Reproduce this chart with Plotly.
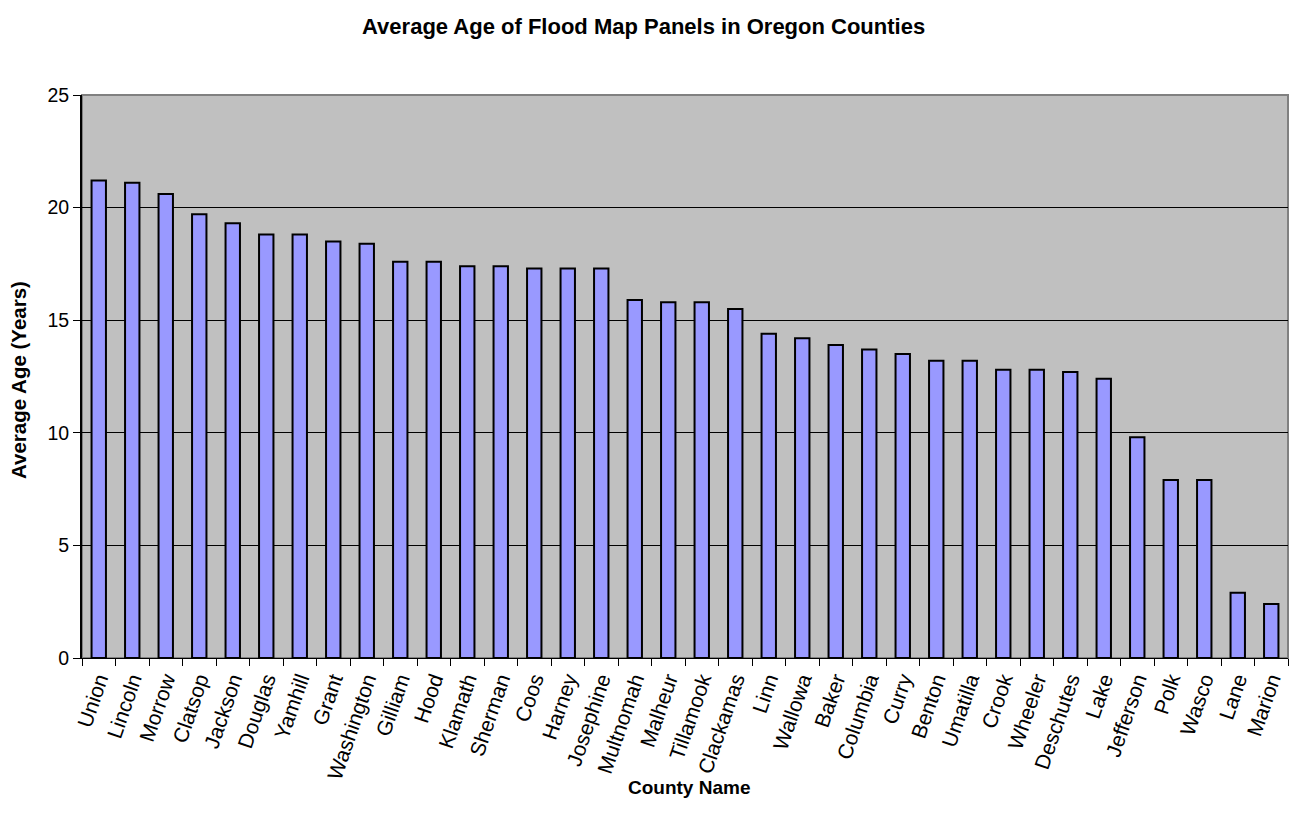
import plotly.graph_objects as go

counties = ["Union", "Lincoln", "Morrow", "Clatsop", "Jackson", "Douglas", "Yamhill", "Grant",
            "Washington", "Gilliam", "Hood", "Klamath", "Sherman", "Coos", "Harney", "Josephine",
            "Multnomah", "Malheur", "Tillamook", "Clackamas", "Linn", "Wallowa", "Baker", "Columbia",
            "Curry", "Benton", "Umatilla", "Crook", "Wheeler", "Deschutes", "Lake", "Jefferson",
            "Polk", "Wasco", "Lane", "Marion"]
avg_age = [21.2, 21.1, 20.6, 19.7, 19.3, 18.8, 18.8, 18.5,
           18.4, 17.6, 17.6, 17.4, 17.4, 17.3, 17.3, 17.3,
           15.9, 15.8, 15.8, 15.5, 14.4, 14.2, 13.9, 13.7,
           13.5, 13.2, 13.2, 12.8, 12.8, 12.7, 12.4, 9.8,
           7.9, 7.9, 2.9, 2.4]
y_ticks = [0, 5, 10, 15, 20, 25]

FONT = "Liberation Sans, Arial, sans-serif"

fig = go.Figure(go.Bar(
    x=counties, y=avg_age,
    marker=dict(color="#9999FF", line=dict(color="black", width=2)),
))

fig.update_layout(
    width=1295, height=827,
    margin=dict(l=82, r=7, t=95, b=169),
    paper_bgcolor="white", plot_bgcolor="#C0C0C0",
    bargap=0.57,
    showlegend=False,
    font=dict(family=FONT, size=19.5, color="black"),
    title=dict(text="<b>Average Age of Flood Map Panels in Oregon Counties</b>",
               xref="container", x=0.497, xanchor="center",
               yref="container", y=0.978, yanchor="top",
               font=dict(family=FONT, size=22, color="black")),
    annotations=[
        dict(text="<b>County Name</b>", xref="paper", yref="paper",
             x=(689 - 82) / 1206, y=-(787 - 658) / 563, xanchor="center", yanchor="middle",
             showarrow=False, font=dict(family=FONT, size=19, color="black")),
        dict(text="<b>Average Age (Years)</b>", xref="paper", yref="paper",
             x=-(82 - 18) / 1206, y=(658 - 380) / 563, xanchor="center", yanchor="middle",
             textangle=-90, showarrow=False, font=dict(family=FONT, size=20.5, color="black")),
    ],
)

fig.update_xaxes(
    tickangle=-71, tickson="boundaries", ticks="outside", ticklen=7, tickcolor="black",
    showline=True, linecolor="black", linewidth=1,
    showgrid=False,
    tickfont=dict(family=FONT, size=21),
)
fig.update_yaxes(
    range=[0, 25], tickvals=y_ticks, ticks="outside", ticklen=7, tickcolor="black",
    showline=True, linecolor="black", linewidth=2,
    showgrid=True, gridcolor="black", gridwidth=1,
    zeroline=False,
    tickfont=dict(family=FONT, size=19.5),
)

# plot-area border (gray) on top/right
fig.add_shape(type="rect", xref="paper", yref="paper", x0=0, y0=0, x1=1, y1=1,
              line=dict(color="#808080", width=2), layer="below")

fig.write_html("out.html")
